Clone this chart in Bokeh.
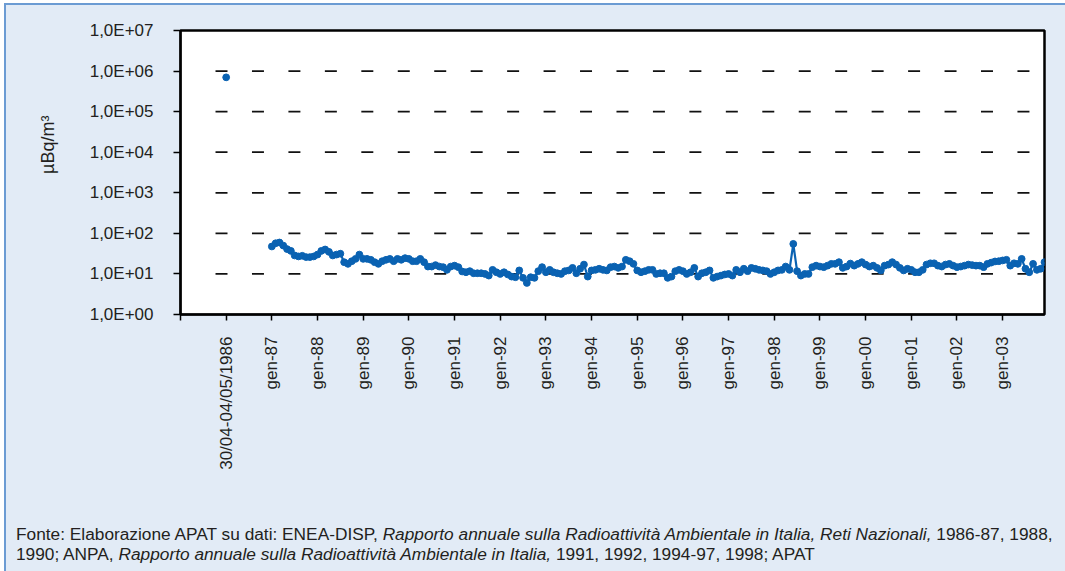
import math
from bokeh.plotting import figure
from bokeh.models import Range1d, FixedTicker, Title, Div, ColumnDataSource
from bokeh.layouts import column
from bokeh.embed import file_html
from bokeh.resources import INLINE

# ---------------- data ----------------
chernobyl_label = "30/04-04/05/1986"
chernobyl_value = 7.0e5

year_labels = ["gen-87", "gen-88", "gen-89", "gen-90", "gen-91", "gen-92", "gen-93",
               "gen-94", "gen-95", "gen-96", "gen-97", "gen-98", "gen-99", "gen-00",
               "gen-01", "gen-02", "gen-03"]

v1987 = [47.5, 57, 59.5, 50, 41, 37, 28.5, 27, 28, 26, 26, 27]
v1988 = [30, 37, 40, 35, 28.5, 30, 31.5, 19.5, 17.7, 20.6, 23.5, 30]
v1989 = [23.5, 23.5, 22.3, 19.5, 17.7, 20.6, 22.3, 23.5, 20.6, 23.5, 22.3, 24.5]
v1990 = [23.5, 20.6, 20.6, 23.5, 19.5, 15.2, 15.2, 16.5, 15.2, 14.7, 12.6, 15.2]
v1991 = [16, 14.7, 11.5, 11, 11.7, 10.4, 10.4, 10.4, 10, 9.1, 12.6, 11]
v1992 = [10, 11, 9.7, 8.6, 8.3, 12.2, 8, 6, 8.3, 8, 11.7, 14.7]
v1993 = [11, 12.6, 11, 10.4, 10, 11.7, 12.2, 14.1, 10.4, 13.4, 17, 8.6]
v1994 = [12.2, 12.6, 13.4, 12.6, 12.2, 14.7, 15.2, 14.1, 15.2, 22.3, 20.6, 17.7]
v1995 = [12.2, 11, 11.7, 12.6, 12.6, 10, 10.4, 10.4, 8, 8.6, 11.7, 12.6]
v1996 = [11.7, 10, 11, 14.1, 8.6, 10.4, 11, 12.2, 8, 8.6, 9.1, 9.7]
v1997 = [10, 9.1, 12.6, 11, 13.4, 11.7, 14.1, 13.4, 12.6, 12.2, 11.7, 10]
v1998 = [11, 12.2, 12.6, 15.2, 12.6, 55, 11.7, 9.1, 10, 10, 14.7, 16]
v1999 = [15.2, 14.7, 16, 17.7, 17.7, 19.5, 14.1, 15.2, 18, 16, 17.7, 19.5]
v2000 = [17, 15.2, 16, 14.1, 12.2, 16, 17, 19.5, 17, 14.1, 12.2, 13.4]
v2001 = [12.6, 11, 11, 12.6, 17, 18.3, 18.3, 16, 15.2, 17, 17.7, 16]
v2002 = [14.7, 15.2, 16, 17, 16.5, 16, 16, 14.7, 17.7, 19, 20.3, 20.6]
v2003 = [21.5, 22.3, 16, 18.3, 17.7, 23.5, 13.4, 11, 17.7, 12.6, 13.4, 19.5]

y_tick_values = [1, 10, 100, 1000, 10000, 100000, 1000000, 10000000]
y_tick_labels = ["1,0E+00", "1,0E+01", "1,0E+02", "1,0E+03",
                 "1,0E+04", "1,0E+05", "1,0E+06", "1,0E+07"]
y_title = "µBq/m³"

footer_html = ("Fonte: Elaborazione APAT su dati: ENEA-DISP, <i>Rapporto annuale sulla "
               "Radioattività Ambientale in Italia, Reti Nazionali,</i> 1986-87, 1988,<br>"
               "1990; ANPA, <i>Rapporto annuale sulla Radioattività Ambientale in Italia,</i> "
               "1991, 1992, 1994-97, 1998; APAT")

# ---------------- layout / style constants ----------------
months_per_year = 12
pos_1986 = 12          # category slot of the 1986 sample
pos_first_month = 24   # category slot of gen-87

# dashed gridline pattern (in category-slot units along x)
dash_start, dash_period, dash_len, n_dash = 9.2, 9.577, 3.15, 23

monthly = (v1987 + v1988 + v1989 + v1990 + v1991 + v1992 + v1993 + v1994 + v1995 +
           v1996 + v1997 + v1998 + v1999 + v2000 + v2001 + v2002 + v2003)
xs = [pos_first_month + i for i in range(len(monthly))]
src = ColumnDataSource(data=dict(x=xs, y=monthly))
src86 = ColumnDataSource(data=dict(x=[pos_1986], y=[chernobyl_value]))

gx0, gx1, gy = [], [], []
for gv in y_tick_values[1:-1]:
    for k in range(n_dash):
        gx0.append(dash_start + k * dash_period)
        gx1.append(dash_start + k * dash_period + dash_len)
        gy.append(gv)
grid_src = ColumnDataSource(data=dict(x0=gx0, x1=gx1, y=gy))

PANEL = "#e2ebf6"
EDGE = "#6b9bd3"
BLUE = "#0a62b2"
TXT = "#231f20"
FONT = "Liberation Sans"

W, H = 1053, 500
p = figure(width=W, height=H, y_axis_type="log",
           x_range=Range1d(0, xs[-1]), y_range=Range1d(1, 1e7),
           output_backend="svg", toolbar_location=None,
           min_border_left=174, min_border_right=15,
           min_border_top=25, min_border_bottom=191)
p.background_fill_color = "white"
p.border_fill_color = PANEL
p.outline_line_color = "black"
p.outline_line_width = 2.5

# grid (dashed lines drawn as segments)
p.xgrid.visible = False
p.ygrid.visible = False
p.segment("x0", "y", "x1", "y", source=grid_src, line_color="#111111", line_width=1.7)

# y axis
ya = p.yaxis[0]
ya.ticker = FixedTicker(ticks=y_tick_values, minor_ticks=[])
ya.major_label_overrides = {v: l for v, l in zip(y_tick_values, y_tick_labels)}
ya.axis_line_color = "black"
ya.axis_line_width = 2
ya.major_tick_line_color = "black"
ya.major_tick_line_width = 1.5
ya.major_tick_in = 0
ya.major_tick_out = 7
ya.minor_tick_line_color = None
ya.major_label_standoff = 20
ya.major_label_text_font = FONT
ya.major_label_text_font_size = "17px"
ya.major_label_text_color = TXT

# x axis
x_ticks = [0, pos_1986] + [pos_first_month + months_per_year * k for k in range(len(year_labels))]
x_labels = [""] + [chernobyl_label] + year_labels
xa = p.xaxis[0]
xa.ticker = FixedTicker(ticks=x_ticks, minor_ticks=[])
xa.major_label_overrides = {t: l for t, l in zip(x_ticks, x_labels)}
xa.major_label_orientation = math.pi / 2
xa.axis_line_color = "black"
xa.axis_line_width = 2
xa.major_tick_line_color = "black"
xa.major_tick_line_width = 1.5
xa.major_tick_in = 0
xa.major_tick_out = 6
xa.minor_tick_line_color = None
xa.major_label_standoff = 16
xa.major_label_text_font = FONT
xa.major_label_text_font_size = "17px"
xa.major_label_text_color = TXT

# series
p.line("x", "y", source=src, line_color=BLUE, line_width=2.2)
p.scatter("x", "y", source=src, size=6.8, fill_color=BLUE, line_color=BLUE)
p.scatter("x", "y", source=src86, size=6.8, fill_color=BLUE, line_color=BLUE)

# y title as a side title on the left
p.add_layout(Title(text=y_title, align="right", offset=85, text_font=FONT,
                   text_font_size="18px", text_font_style="normal",
                   text_color=TXT, standoff=57), "left")

footer = Div(text=footer_html, width=W, height=63,
             styles={"font-family": "'Liberation Sans', sans-serif",
                     "font-size": "17.3px", "line-height": "19.5px",
                     "color": TXT, "padding-left": "5px", "padding-top": "15px",
                     "white-space": "nowrap"})

layout = column(p, footer, spacing=0,
                styles={"background-color": PANEL, "border": "2px solid " + EDGE,
                        "margin-left": "4px", "margin-top": "3px"})

open("out.html", "w").write(file_html(layout, INLINE))
